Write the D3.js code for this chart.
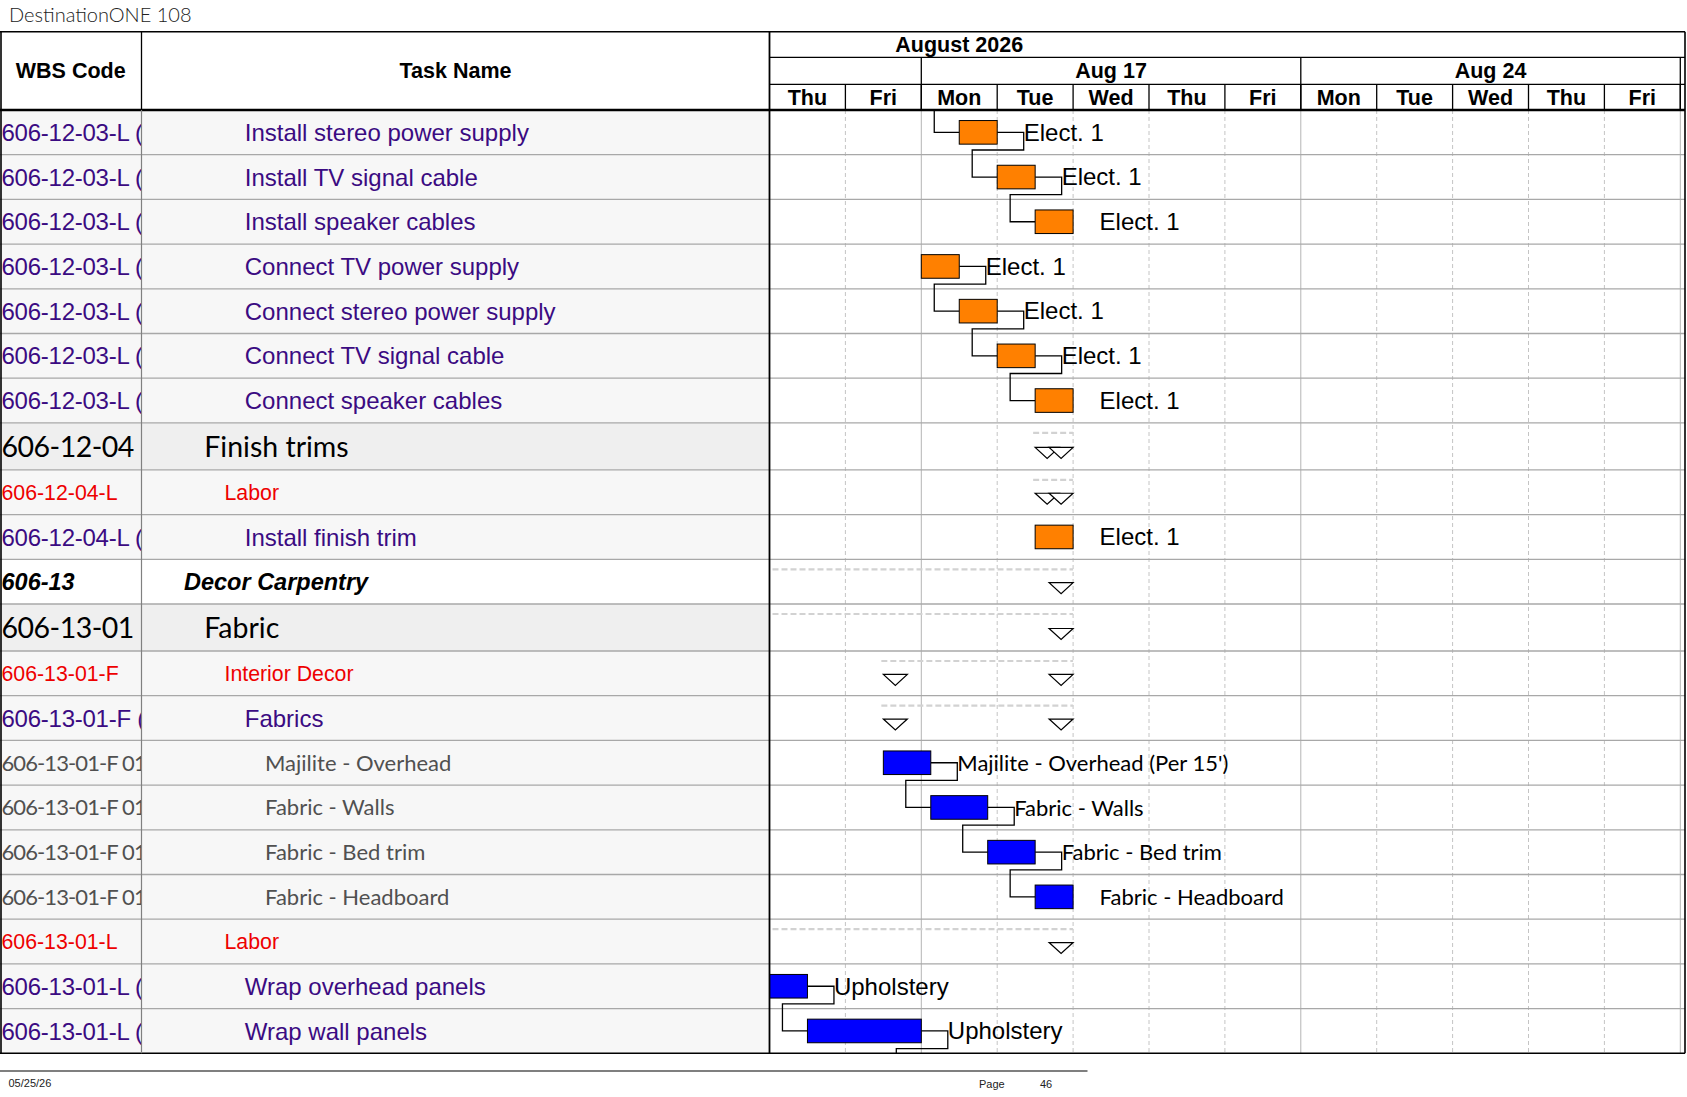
<!DOCTYPE html>
<html>
<head>
<meta charset="utf-8">
<script src="https://cdn.jsdelivr.net/npm/d3@7"></script>
<style>
  body { margin: 0; background: #fff; }
  svg { display: block; }
</style>
</head>
<body>
<svg id="chart"></svg>
<script>
// ---------- data ----------
const docTitle = 'DestinationONE 108';
const printDate = '05/25/26';
const pageLabel = 'Page';
const pageNo = '46';

const headerWbs = 'WBS Code';
const headerTask = 'Task Name';

// time axis: workdays counted from Thu Aug 13 (weekends are hidden)
const monthLabel = 'August 2026';
const monthSpan = [-8, 13];
const weekLabels = ['Aug 10', 'Aug 17', 'Aug 24', 'Aug 31'];
const weekStarts = [-3, 2, 7, 12];
const dayLabels = ['Thu', 'Fri', 'Mon', 'Tue', 'Wed', 'Thu', 'Fri', 'Mon', 'Tue', 'Wed', 'Thu', 'Fri', 'Mon'];

const wbsCodes = [
  '606-12-03-L (', '606-12-03-L (', '606-12-03-L (', '606-12-03-L (', '606-12-03-L (',
  '606-12-03-L (', '606-12-03-L (', '606-12-04', '606-12-04-L', '606-12-04-L (',
  '606-13', '606-13-01', '606-13-01-F', '606-13-01-F (', '606-13-01-F 01',
  '606-13-01-F 01', '606-13-01-F 01', '606-13-01-F 01', '606-13-01-L', '606-13-01-L (',
  '606-13-01-L ('
];
const taskNames = [
  'Install stereo power supply', 'Install TV signal cable', 'Install speaker cables',
  'Connect TV power supply', 'Connect stereo power supply', 'Connect TV signal cable',
  'Connect speaker cables', 'Finish trims', 'Labor', 'Install finish trim',
  'Decor Carpentry', 'Fabric', 'Interior Decor', 'Fabrics', 'Majilite - Overhead',
  'Fabric - Walls', 'Fabric - Bed trim', 'Fabric - Headboard', 'Labor',
  'Wrap overhead panels', 'Wrap wall panels'
];
const levels = [5, 5, 5, 5, 5, 5, 5, 3, 4, 5, 2, 3, 4, 5, 6, 6, 6, 6, 4, 5, 5];
const isSummary = [false, false, false, false, false, false, false, true, true, false,
  true, true, true, true, false, false, false, false, true, false, false];
const starts = [2.5, 3, 3.5, 2, 2.5, 3, 3.5, 3.5, 3.5, 3.5, -5, -5, 1.5, 1.5, 1.5, 2.125, 2.875, 3.5, -5, 0, 0.5];
const ends   = [3, 3.5, 4, 2.5, 3, 3.5, 4, 4, 4, 4, 4, 4, 4, 4, 2.125, 2.875, 3.5, 4, 4, 0.5, 2];
const barLabels = [
  'Elect. 1', 'Elect. 1', 'Elect. 1', 'Elect. 1', 'Elect. 1', 'Elect. 1', 'Elect. 1',
  null, null, 'Elect. 1', null, null, null, null,
  "Majilite - Overhead (Per 15')", 'Fabric - Walls', 'Fabric - Bed trim', 'Fabric - Headboard',
  null, 'Upholstery', 'Upholstery'
];
const trades = ['Electrical', 'Electrical', 'Electrical', 'Electrical', 'Electrical', 'Electrical',
  'Electrical', null, null, 'Electrical', null, null, null, null, 'Decor', 'Decor', 'Decor',
  'Decor', null, 'Decor', 'Decor'];
// finish-to-start links (row index); -1 = task above this page, 21 = task below it
const links = [[-1, 0], [0, 1], [1, 2], [3, 4], [4, 5], [5, 6], [14, 15], [15, 16], [16, 17], [19, 20], [20, 21]];
const belowPageStart = 2;

// ---------- layout ----------
const W = 1687, H = 1097;
const tableTop = 31.7, monthBottom = 57.3, weekBottom = 84.3, headerBottom = 110;
const colTask = 141.5, colChart = 769.5, tableRight = 1685;
const ROW_H = 44.7, BIG_H = 47;

const ARIAL = '"Liberation Sans", Arial, sans-serif';
const CALIBRI = 'Lato, "Open Sans", sans-serif';

const levelStyle = {
  2: { font: ARIAL, size: 23.5, weight: 'bold', italic: true, color: '#000', bg: '#ffffff', codeSpacing: 0 },
  3: { font: CALIBRI, size: 28.5, weight: 'normal', italic: false, color: '#000', bg: '#efefef', codeSpacing: -0.5 },
  4: { font: ARIAL, size: 21.3, weight: 'normal', italic: false, color: '#ee0000', bg: '#f7f7f7', codeSpacing: 0 },
  5: { font: ARIAL, size: 24, weight: 'normal', italic: false, color: '#3b0b82', bg: '#f7f7f7', codeSpacing: -0.25 },
  6: { font: CALIBRI, size: 22, weight: 'normal', italic: false, color: '#505050', bg: '#f7f7f7', codeSpacing: -0.9 }
};

const heights = levels.map(l => l === 3 ? BIG_H : ROW_H);
const tops = [headerBottom];
heights.forEach((h, i) => tops.push(tops[i] + h));
const tableBottom = tops[tops.length - 1];

const rows = wbsCodes.map((code, i) => ({
  i, code, name: taskNames[i], level: levels[i], summary: isSummary[i],
  start: starts[i], end: ends[i], label: barLabels[i], trade: trades[i],
  top: tops[i], bottom: tops[i + 1], cy: (tops[i] + tops[i + 1]) / 2
}));

const x = d3.scaleLinear().domain([0, 12]).range([colChart, 1680.3]);
const color = d3.scaleOrdinal().domain(['Electrical', 'Decor']).range(['#ff8000', '#0000ff']);

const svg = d3.select('#chart').attr('width', W).attr('height', H)
  .style('font-family', ARIAL);

const defs = svg.append('defs');
const clip = (id, x0, y0, x1, y1) => defs.append('clipPath').attr('id', id)
  .append('rect').attr('x', x0).attr('y', y0).attr('width', x1 - x0).attr('height', y1 - y0);
clip('clip-wbs', 0, headerBottom, colTask, tableBottom);
clip('clip-task', colTask, headerBottom, colChart, tableBottom);
clip('clip-chart', colChart, headerBottom, tableRight, tableBottom);
clip('clip-head', colChart, tableTop, tableRight, headerBottom);

// ---------- row backgrounds ----------
svg.append('g').selectAll('rect').data(rows).join('rect')
  .attr('x', 0).attr('y', d => d.top)
  .attr('width', colChart).attr('height', d => d.bottom - d.top)
  .attr('fill', d => levelStyle[d.level].bg);

// ---------- chart grid ----------
const grid = svg.append('g').attr('clip-path', 'url(#clip-chart)');
const dayTicks = d3.range(1, dayLabels.length + 1);
grid.selectAll('line.day').data(dayTicks).join('line')
  .attr('class', 'day')
  .attr('x1', d => x(d)).attr('x2', d => x(d))
  .attr('y1', headerBottom).attr('y2', tableBottom)
  .attr('stroke', d => weekStarts.includes(d) ? '#b4b4b4' : '#c4c4c4')
  .attr('stroke-width', 1)
  .attr('stroke-dasharray', d => weekStarts.includes(d) ? null : '4,3');

// horizontal row lines
svg.append('g').selectAll('line').data(rows.slice(0, -1)).join('line')
  .attr('x1', 0).attr('x2', tableRight)
  .attr('y1', d => d.bottom).attr('y2', d => d.bottom)
  .attr('stroke', '#a8a8a8').attr('stroke-width', 1.3);

// ---------- chart marks ----------
const marks = svg.append('g').attr('clip-path', 'url(#clip-chart)');
const summaries = rows.filter(d => d.summary);

marks.selectAll('line.sum').data(summaries).join('line')
  .attr('class', 'sum')
  .attr('x1', d => Math.max(x(d.start) - 2, colChart + 3)).attr('x2', d => x(d.end))
  .attr('y1', d => d.top + 10).attr('y2', d => d.top + 10)
  .attr('stroke', '#d2d2d2').attr('stroke-width', 2.2).attr('stroke-dasharray', '6,3');

const TRI_W = 24, TRI_H = 11;
const tri = (x0, y0) => `M${x0},${y0}H${x0 + TRI_W}L${x0 + TRI_W / 2},${y0 + TRI_H}Z`;
const triangles = [];
summaries.forEach(d => {
  if (d.start >= 0) triangles.push(tri(x(d.start), d.cy + 1));
  triangles.push(tri(x(d.end) - TRI_W, d.cy + 1));
});
marks.selectAll('path.tri').data(triangles).join('path')
  .attr('class', 'tri').attr('d', d => d)
  .attr('fill', '#fff').attr('stroke', '#000').attr('stroke-width', 1.2);

// links
const LEAD = 26.5, BACK = 25;
const linkPath = ([a, b]) => {
  if (a < 0) {
    const t = rows[b];
    return `M${x(t.start) - BACK},${headerBottom}V${t.cy}H${x(t.start)}`;
  }
  const s = rows[a];
  const tx = b < rows.length ? x(rows[b].start) : x(belowPageStart);
  const ty = b < rows.length ? rows[b].cy : tableBottom + 20;
  return `M${x(s.end)},${s.cy}H${x(s.end) + LEAD}V${s.bottom - 4.7}H${tx - BACK}V${ty}H${tx}`;
};
marks.selectAll('path.link').data(links).join('path')
  .attr('class', 'link').attr('d', linkPath)
  .attr('fill', 'none').attr('stroke', '#000').attr('stroke-width', 1.3);

const BAR_H = 23.6;
const bars = rows.filter(d => !d.summary);
marks.selectAll('rect.bar').data(bars).join('rect')
  .attr('class', 'bar')
  .attr('x', d => x(d.start)).attr('y', d => d.cy - BAR_H / 2)
  .attr('width', d => x(d.end) - x(d.start)).attr('height', BAR_H)
  .attr('fill', d => color(d.trade)).attr('stroke', '#000').attr('stroke-width', 1);

marks.selectAll('text.lbl').data(bars).join('text')
  .attr('class', 'lbl')
  .attr('x', d => x(d.end) + LEAD).attr('y', d => d.cy + 8.3)
  .attr('font-family', d => d.level === 6 ? CALIBRI : ARIAL)
  .attr('font-size', d => d.level === 6 ? 22 : 24)
  .attr('fill', '#000')
  .text(d => d.label);

// ---------- table text ----------
const styleText = sel => sel
  .attr('font-family', d => levelStyle[d.level].font)
  .attr('font-size', d => levelStyle[d.level].size)
  .attr('font-weight', d => levelStyle[d.level].weight)
  .attr('font-style', d => levelStyle[d.level].italic ? 'italic' : 'normal')
  .attr('fill', d => levelStyle[d.level].color)
  .attr('y', d => d.cy + levelStyle[d.level].size * 0.36);

svg.append('g').attr('clip-path', 'url(#clip-wbs)')
  .selectAll('text').data(rows).join('text')
  .attr('x', 1.5).call(styleText)
  .attr('letter-spacing', d => levelStyle[d.level].codeSpacing)
  .text(d => d.code);

svg.append('g').attr('clip-path', 'url(#clip-task)')
  .selectAll('text').data(rows).join('text')
  .attr('x', d => 184 + (d.level - 2) * 20.25).call(styleText).text(d => d.name);

// ---------- header ----------
const head = svg.append('g').attr('font-weight', 'bold').attr('font-size', 21.5).attr('fill', '#000');
head.append('text').attr('x', colTask / 2).attr('y', 77.5).attr('text-anchor', 'middle').text(headerWbs);
head.append('text').attr('x', (colTask + colChart) / 2).attr('y', 77.5).attr('text-anchor', 'middle').text(headerTask);

const visible = v => x(v) > colChart && x(v) < tableRight;
const tl = svg.append('g').attr('clip-path', 'url(#clip-head)')
  .attr('font-weight', 'bold').attr('font-size', 21.5).attr('text-anchor', 'middle');
tl.append('text').attr('x', x((monthSpan[0] + monthSpan[1]) / 2)).attr('y', 52).text(monthLabel);
const weeks = weekLabels.map((label, i) => ({ label, mid: weekStarts[i] + 2.5 })).filter(d => visible(d.mid));
tl.selectAll('text.week').data(weeks).join('text')
  .attr('class', 'week')
  .attr('x', d => x(d.mid)).attr('y', 77.8).text(d => d.label);
const days = dayLabels.map((label, i) => ({ label, mid: i + 0.5 })).filter(d => visible(d.mid));
tl.selectAll('text.day').data(days).join('text')
  .attr('class', 'day')
  .attr('x', d => x(d.mid)).attr('y', 104.5).text(d => d.label);
tl.selectAll('line.wk').data(weekStarts).join('line')
  .attr('class', 'wk')
  .attr('x1', d => x(d)).attr('x2', d => x(d))
  .attr('y1', monthBottom).attr('y2', headerBottom)
  .attr('stroke', '#000').attr('stroke-width', 1.3);
tl.selectAll('line.dy').data(dayTicks).join('line')
  .attr('class', 'dy')
  .attr('x1', d => x(d)).attr('x2', d => x(d))
  .attr('y1', weekBottom).attr('y2', headerBottom)
  .attr('stroke', '#000').attr('stroke-width', 1.3);

// ---------- borders ----------
const hline = (x1, x2, y, w, c = '#000') => svg.append('line')
  .attr('x1', x1).attr('x2', x2).attr('y1', y).attr('y2', y)
  .attr('stroke', c).attr('stroke-width', w);
const vline = (xx, y1, y2, w, c = '#000') => svg.append('line')
  .attr('x1', xx).attr('x2', xx).attr('y1', y1).attr('y2', y2)
  .attr('stroke', c).attr('stroke-width', w);

hline(0, tableRight, tableTop, 1.6);
hline(colChart, tableRight, monthBottom, 1.3);
hline(colChart, tableRight, weekBottom, 1.3);
hline(0, tableRight, headerBottom, 2.6);
hline(0, tableRight, tableBottom, 1.6);
vline(1, tableTop, tableBottom, 1.6);
vline(colTask, tableTop, headerBottom, 1.3);
vline(colTask, headerBottom, tableBottom, 1.2, '#808080');
vline(colChart, tableTop, tableBottom, 1.8);
vline(tableRight, tableTop, tableBottom, 1.6);

// ---------- title & footer ----------
svg.append('text').attr('x', 9).attr('y', 22)
  .attr('font-family', CALIBRI).attr('font-weight', 300).attr('font-size', 20)
  .attr('fill', '#222').text(docTitle);

hline(0, 1087.5, 1071, 1.2);
const foot = svg.append('g').attr('font-size', 11).attr('fill', '#222');
foot.append('text').attr('x', 8.5).attr('y', 1087).text(printDate);
foot.append('text').attr('x', 979).attr('y', 1088).text(pageLabel);
foot.append('text').attr('x', 1040).attr('y', 1088).text(pageNo);
</script>
</body>
</html>
